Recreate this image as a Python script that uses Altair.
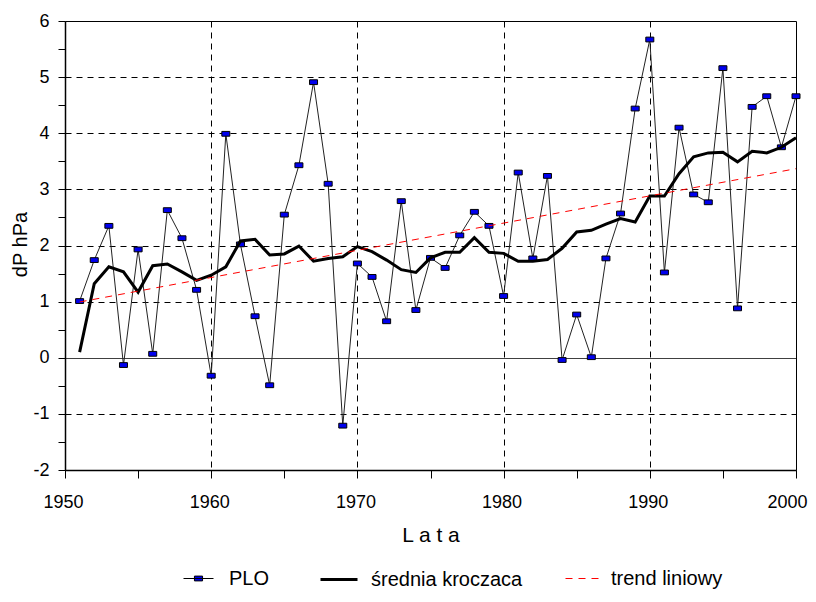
import altair as alt
import pandas as pd

years = list(range(1951, 2001))
plo = [1.01, 1.74, 2.35, -0.13, 1.93, 0.07, 2.63, 2.13, 1.21, -0.32,
       3.99, 2.02, 0.74, -0.49, 2.55, 3.43, 4.91, 3.10, -1.21, 1.68,
       1.44, 0.65, 2.79, 0.85, 1.78, 1.60, 2.18, 2.60, 2.35, 1.10,
       3.30, 1.77, 3.24, -0.04, 0.77, 0.01, 1.77, 2.57, 4.44, 5.67,
       1.52, 4.10, 2.91, 2.77, 5.16, 0.88, 4.47, 4.66, 3.75, 4.66]
ma = [0.10, 1.32, 1.62, 1.53, 1.17, 1.64, 1.67, 1.53, 1.38, 1.47,
      1.62, 2.08, 2.11, 1.83, 1.85, 1.99, 1.72, 1.77, 1.80, 1.98,
      1.89, 1.74, 1.57, 1.52, 1.78, 1.88, 1.88, 2.14, 1.88, 1.86,
      1.72, 1.72, 1.75, 1.95, 2.24, 2.27, 2.38, 2.48, 2.42, 2.88,
      2.88, 3.28, 3.58, 3.65, 3.66, 3.49, 3.68, 3.65, 3.75, 3.92]
series = ["PLO", "średnia kroczaca", "trend liniowy"]
x_ticks = list(range(1950, 2001, 5))
y_ticks = [v / 2 for v in range(-4, 13)]

df = pd.DataFrame({"year": years, "plo": plo, "ma": ma,
                   "s1": series[0], "s2": series[1]})

FONT = "Liberation Sans"

x_axis = alt.Axis(
    values=x_ticks, title="L a t a", titleFont=FONT, titleFontSize=21,
    titleFontWeight="normal", titleY=65, titleBaseline="middle",
    labelFont=FONT, labelFontSize=18, labelColor="black",
    labelExpr="datum.value % 10 === 0 ? '' + datum.value : ''",
    labelPadding=15,
    labelOffset={"condition": {"test": "datum.value === 2000", "value": -9}, "value": -2},
    tickSize=8, tickColor="black", domainColor="black",
    domainWidth=1.5, grid=True, gridColor="black", gridDash=[6, 5],
    gridOpacity={"condition": {"test": "datum.value % 10 !== 0 || datum.value === 1950 || datum.value === 2000", "value": 0}, "value": 1},
    labelFlush=False, labelOverlap=False,
)
y_axis = alt.Axis(
    values=y_ticks, title="dP hPa", titleFont=FONT, titleFontSize=20,
    titleFontWeight="normal", titleAngle=270, titleX=-45, titleY=223,
    titleAlign="center", titleBaseline="middle",
    labelFont=FONT, labelFontSize=18, labelColor="black",
    labelExpr="datum.value % 1 === 0 ? '' + datum.value : ''",
    labelPadding=9, tickSize=7, tickColor="black", domainColor="black",
    domainWidth=1.5, grid=True, gridColor="black",
    gridDash={"condition": {"test": "datum.value === 0", "value": [1, 0]}, "value": [6, 5]},
    gridOpacity={"condition": {"test": "datum.value % 1 !== 0 || datum.value === -2 || datum.value === 6", "value": 0}, "value": 1},
    labelFlush=False, labelOverlap=False,
)

xs = alt.Scale(domain=[1950, 2000], nice=False, zero=False)
ys = alt.Scale(domain=[-2, 6], nice=False, zero=False)

X = alt.X("year:Q", scale=xs, axis=x_axis)

base = alt.Chart(df)

plo_line = base.mark_line(color="#222222", strokeWidth=1).encode(
    x=X, y=alt.Y("plo:Q", scale=ys, axis=y_axis))

plo_pts = base.mark_point(
    shape="M-1,-0.6H1V0.6H-1Z", filled=True, size=64, stroke="black",
    strokeWidth=1, opacity=1,
).encode(
    x=X, y=alt.Y("plo:Q", scale=ys, axis=y_axis),
    color=alt.Color("s1:N", scale=alt.Scale(domain=[series[0]], range=["#0000ee"]),
                    legend=alt.Legend(
                        title=None, orient="none", legendX=118, legendY=542,
                        padding=0, offset=0,
                        symbolType="M-1,0H1M-0.27,-0.16H0.27V0.16H-0.27Z",
                        symbolSize=900, symbolStrokeColor="black",
                        symbolFillColor="#0000ee", symbolStrokeWidth=1,
                        labelFont=FONT, labelFontSize=20, labelColor="black",
                        labelOffset=15)),
)

ma_line = base.mark_line(strokeWidth=3).encode(
    x=X, y=alt.Y("ma:Q", scale=ys, axis=y_axis),
    stroke=alt.Stroke("s2:N", scale=alt.Scale(domain=[series[1]], range=["black"]),
                      legend=alt.Legend(
                          title=None, orient="none", legendX=254, legendY=538.5,
                          padding=0, offset=0, symbolType="M-1,0H1",
                          symbolSize=1369, symbolStrokeWidth=3,
                          symbolStrokeColor="black",
                          labelFont=FONT, labelFontSize=20, labelColor="black",
                          labelOffset=12)),
)

trend = base.transform_regression("year", "plo", method="linear").transform_calculate(
    s3="'trend liniowy'"
).mark_line(color="red", strokeWidth=1).encode(
    x=X, y=alt.Y("plo:Q", scale=ys, axis=y_axis),
    strokeDash=alt.StrokeDash("s3:N", scale=alt.Scale(domain=[series[2]], range=[[7, 6]]),
                              legend=alt.Legend(
                                  title=None, orient="none", legendX=500, legendY=540.5,
                                  padding=0, offset=0, symbolType="M-1,0H1",
                                  symbolSize=1089, symbolStrokeWidth=1,
                                  symbolStrokeColor="red",
                                  labelFont=FONT, labelFontSize=20, labelColor="black",
                                  labelOffset=12)),
)

chart = alt.layer(plo_line, plo_pts, ma_line, trend).properties(
    width=731, height=449, autosize="none",
    padding={"left": 57, "top": 13, "right": 12, "bottom": 120},
    background="white",
).configure_view(stroke="black", strokeWidth=1)

chart.save("out.html", embed_options={"renderer": "svg", "actions": False})
